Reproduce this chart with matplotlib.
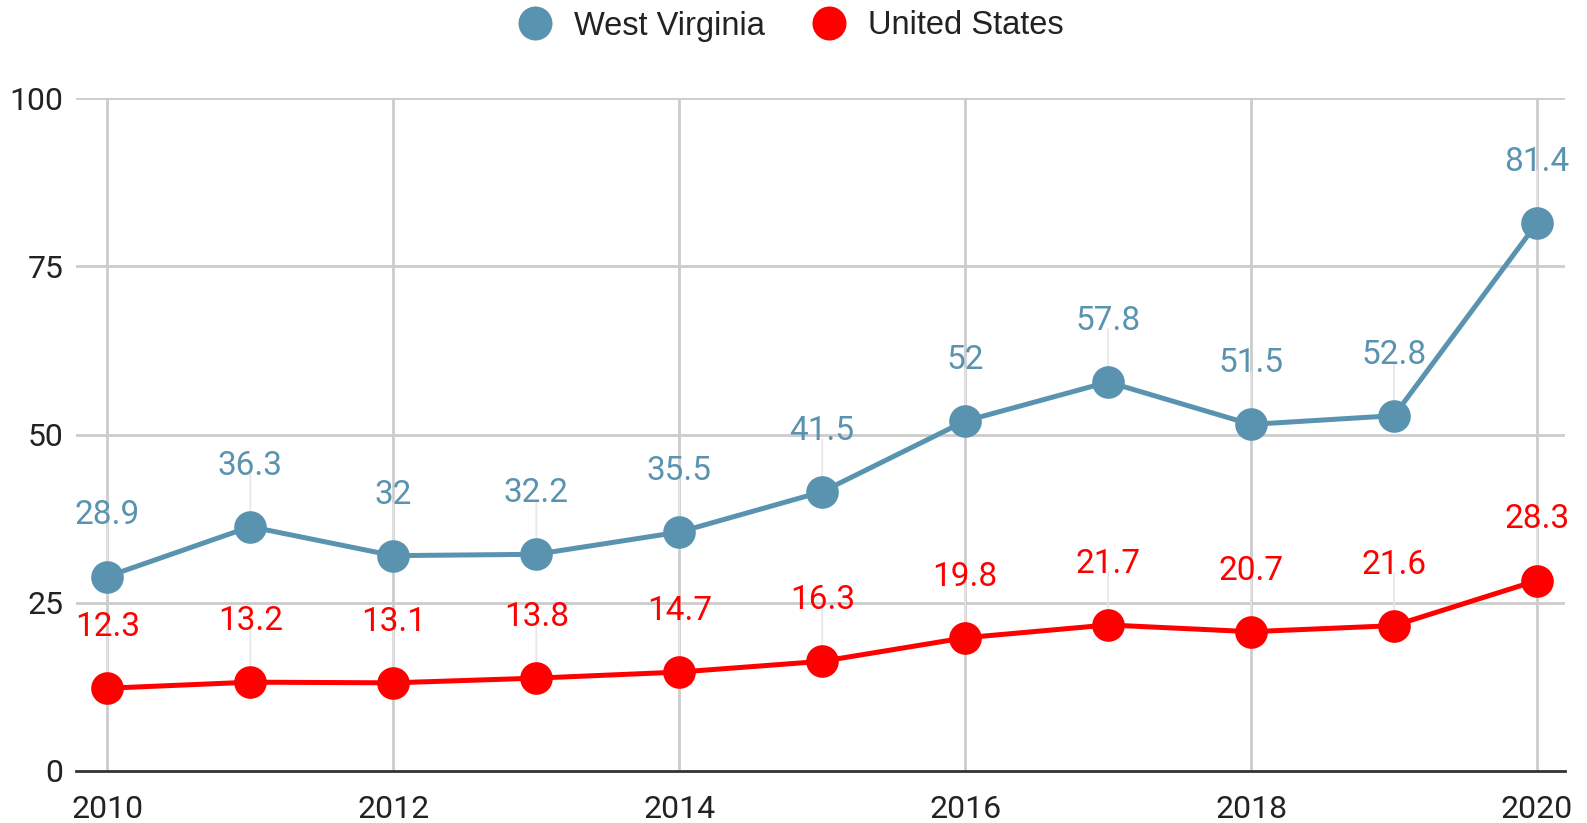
import matplotlib
matplotlib.use("Agg")
import matplotlib.pyplot as plt
from matplotlib.lines import Line2D

plt.rcParams['font.family'] = ['Roboto', 'DejaVu Sans']

years = [2010, 2011, 2012, 2013, 2014, 2015, 2016, 2017, 2018, 2019, 2020]
wv = [28.9, 36.3, 32, 32.2, 35.5, 41.5, 52, 57.8, 51.5, 52.8, 81.4]
us = [12.3, 13.2, 13.1, 13.8, 14.7, 16.3, 19.8, 21.7, 20.7, 21.6, 28.3]
wv_labels = ['28.9', '36.3', '32', '32.2', '35.5', '41.5', '52', '57.8', '51.5', '52.8', '81.4']
us_labels = ['12.3', '13.2', '13.1', '13.8', '14.7', '16.3', '19.8', '21.7', '20.7', '21.6', '28.3']
y_ticks = [0, 25, 50, 75, 100]
x_ticks = [2010, 2012, 2014, 2016, 2018, 2020]

wv_color = '#5a93b0'
us_color = '#ff0000'

W, H = 1587, 823
fig = plt.figure(figsize=(W / 100, H / 100), dpi=100)
ax = fig.add_axes([76 / W, 1 - 771 / H, (1565 - 76) / W, (771 - 98) / H])

ax.set_xlim(2009.78, 2020.196)
ax.set_ylim(0, 100)

# gridlines
for y in y_ticks[1:]:
    ax.axhline(y, color='#cccccc', lw=2, zorder=0)
for x in x_ticks:
    ax.axvline(x, color='#cccccc', lw=2, zorder=0)

for vals, labels, col in [(wv, wv_labels, wv_color), (us, us_labels, us_color)]:
    ax.plot(years, vals, color=col, lw=3.6, marker='o', markersize=23.5,
            markeredgewidth=0, zorder=3)
    for x, v, lab in zip(years, vals, labels):
        # small stem from label to point
        ax.annotate('', xy=(x, v), xytext=(0, 38), textcoords='offset points',
                    arrowprops=dict(arrowstyle='-', color='#e6e6e6', lw=1.2,
                                    shrinkA=0, shrinkB=0), zorder=1)
        ax.annotate(lab, xy=(x, v), xytext=(0, 44), textcoords='offset points',
                    ha='center', va='center', fontsize=24, color=col, zorder=4)

for s in ['top', 'right', 'left']:
    ax.spines[s].set_visible(False)
ax.spines['bottom'].set_color('#333333')
ax.spines['bottom'].set_linewidth(2)

ax.set_yticks(y_ticks)
ax.set_xticks(x_ticks)
ax.tick_params(axis='both', length=0, labelsize=23, colors='#222222')
ax.tick_params(axis='y', pad=9)
ax.tick_params(axis='x', pad=17)

handles = [Line2D([], [], ls='none', marker='o', markersize=24.5, color=wv_color, markeredgewidth=0),
           Line2D([], [], ls='none', marker='o', markersize=24.5, color=us_color, markeredgewidth=0)]
fig.legend(handles, ['West Virginia', 'United States'], loc='center',
           bbox_to_anchor=(783 / W, 1 - 26 / H), ncol=2, frameon=False,
           prop={'family': ['Liberation Sans', 'DejaVu Sans'], 'size': 23.5},
           handletextpad=0.2, columnspacing=0.95, labelcolor='#222222')

fig.savefig('out.png', dpi=100)
